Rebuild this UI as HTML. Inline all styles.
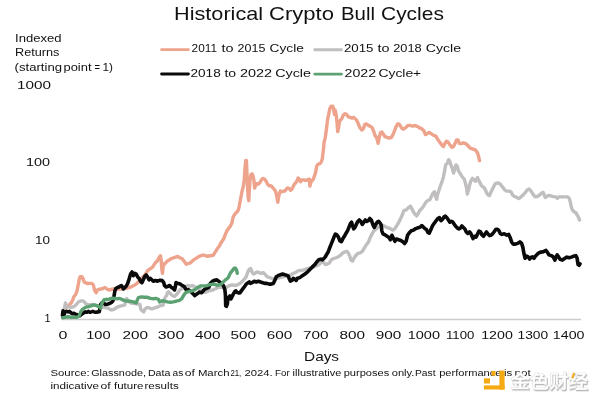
<!DOCTYPE html><html><head><meta charset="utf-8"><title>Historical Crypto Bull Cycles</title><style>html,body{margin:0;padding:0;background:#fff;}body{width:600px;height:402px;overflow:hidden;position:relative;}svg{position:absolute;left:0;top:0;display:block;will-change:transform;}.t{font-family:"Liberation Sans",Arial,sans-serif;fill:#111;}.cn{font-family:"Liberation Sans","Noto Sans CJK SC","WenQuanYi Zen Hei",sans-serif;font-weight:500;}</style></head><body><svg width="600" height="402" viewBox="0 0 600 402"><line x1="62" y1="319.4" x2="581" y2="319.4" stroke="#cccccc" stroke-width="1.5"/><g stroke-width="2.9" stroke-linecap="round"><line x1="161.6" y1="49.6" x2="188.4" y2="49.6" stroke="#eea38c"/><line x1="314.8" y1="49.7" x2="341.4" y2="49.7" stroke="#c0bebe"/><line x1="161.6" y1="74" x2="188.4" y2="74" stroke="#0a0a0a"/><line x1="314.8" y1="74.1" x2="341.4" y2="74.1" stroke="#5ca171"/></g><g fill="none" stroke-linejoin="round" stroke-linecap="round"><polyline points="66.3,308.0 67.9,306.1 69.6,304.5 71.3,302.8 72.6,300.2 73.8,296.8 75.5,294.7 76.8,291.8 77.7,287.5 78.5,283.3 79.3,279.1 80.2,276.6 81.9,276.6 83.2,279.1 84.4,282.3 86.1,283.0 87.8,283.5 90.5,283.4 91.9,283.4 93.3,284.9 94.7,290.5 96.1,292.7 97.6,289.8 99.0,289.3 101.0,289.0 103.0,288.5 105.0,287.5 106.9,289.0 108.9,290.0 110.9,289.5 112.9,289.0 116.0,289.0 120.0,289.0 124.0,288.5 127.0,288.0 130.8,287.0 132.8,286.0 134.8,285.0 137.0,283.4 139.8,280.5 143.0,277.0 145.0,275.0 147.6,270.6 149.7,269.2 152.6,267.1 154.0,264.9 155.4,262.8 157.5,260.7 158.9,257.8 160.4,255.7 161.1,259.3 161.8,269.2 162.5,273.4 163.2,266.3 164.6,263.5 165.0,263.5 167.1,261.3 169.3,259.9 171.4,258.5 173.5,257.8 175.6,257.1 177.8,256.4 179.9,257.8 182.0,258.5 184.1,261.3 186.3,264.2 188.4,263.5 190.5,262.8 192.7,260.6 194.8,259.2 196.9,257.8 199.0,256.4 201.2,255.7 203.3,255.0 205.4,255.7 207.6,256.4 209.7,255.7 211.8,255.7 213.2,255.2 214.7,253.0 216.9,249.3 219.2,246.3 220.7,243.3 222.2,241.0 223.7,238.8 225.1,235.1 226.6,231.3 228.6,228.4 230.4,226.1 231.9,223.1 232.6,219.4 233.4,216.4 234.9,214.2 236.3,212.7 238.1,210.4 239.0,207.5 239.8,203.0 240.6,199.0 241.9,191.8 243.4,185.8 244.2,179.9 244.9,169.4 245.7,160.4 246.4,160.4 246.9,172.4 247.6,187.3 248.2,197.8 248.8,200.7 249.4,188.8 250.1,179.9 250.9,174.6 252.1,173.9 253.1,176.1 253.9,179.9 254.6,188.1 255.4,185.8 256.6,183.6 258.1,184.3 259.9,182.8 261.3,179.9 262.8,178.4 264.6,179.1 266.1,181.3 267.6,184.3 269.1,185.8 271.0,185.8 272.5,187.3 274.5,189.6 276.0,192.5 277.0,197.8 277.8,202.2 279.0,194.8 280.4,191.0 282.2,191.8 284.0,191.0 285.0,191.0 286.2,189.2 287.5,187.9 289.4,188.6 290.6,190.4 291.8,189.2 293.1,186.7 294.3,184.2 295.6,183.0 296.8,181.1 298.1,178.0 299.3,179.2 300.5,181.7 301.8,179.9 303.7,179.9 305.5,180.5 307.4,179.9 309.3,179.2 309.9,186.1 310.5,183.6 311.7,180.5 313.0,179.9 314.2,176.7 315.5,173.0 316.1,169.3 316.7,166.2 318.0,164.3 319.8,163.7 321.1,162.4 322.3,158.7 322.9,153.7 323.6,148.0 324.0,142.8 325.4,136.8 326.6,127.8 327.7,118.9 328.7,114.4 329.9,108.4 331.1,106.2 332.6,106.2 333.7,109.2 334.4,114.4 335.1,109.9 336.2,115.1 337.1,123.4 337.7,131.6 338.6,127.8 339.6,121.1 341.6,118.9 343.4,115.1 344.9,113.7 346.6,114.4 348.1,116.6 350.1,117.4 352.0,118.1 353.8,117.4 355.3,118.9 356.8,120.4 358.3,123.8 359.5,126.9 361.7,129.9 363.2,129.1 364.7,124.6 366.2,123.9 368.4,125.4 369.9,126.1 372.2,127.6 373.7,131.3 375.1,135.8 376.6,137.3 378.1,143.3 379.2,138.1 380.4,132.8 381.9,132.1 383.4,134.3 384.9,136.6 387.1,137.3 389.3,138.1 391.6,137.3 393.1,134.3 394.6,130.6 396.0,126.9 397.5,123.9 399.0,123.9 400.5,126.1 402.0,128.4 403.5,129.1 405.7,127.6 408.0,125.4 410.2,125.4 412.5,126.1 415.0,125.5 417.2,126.4 419.5,127.9 421.7,128.7 424.0,130.9 425.4,134.6 426.9,133.9 429.2,132.4 431.4,133.9 433.7,135.4 435.9,136.1 437.4,139.1 439.6,142.1 441.9,145.1 443.4,146.6 444.9,143.6 446.3,141.3 448.1,142.1 450.1,145.1 452.0,147.3 453.5,146.6 455.0,143.6 456.5,139.9 458.0,139.9 459.5,143.6 461.3,143.6 463.5,142.8 465.7,143.6 468.0,145.8 470.2,148.1 472.5,148.8 474.7,149.6 476.2,151.0 477.7,153.3 478.9,157.8 479.5,160.7" stroke="#eea38c" stroke-width="3.4"/><polyline points="62.5,316.0 64.5,308.0 65.5,302.9 66.0,305.9 67.0,306.9 69.0,306.9 70.9,307.4 72.9,306.9 74.9,305.9 76.4,304.4 77.9,302.4 79.4,301.4 81.4,300.9 82.9,300.9 84.4,301.9 85.4,303.4 88.0,305.0 92.0,304.5 96.0,305.5 100.0,306.8 103.0,307.3 105.3,307.7 108.0,308.2 111.3,310.0 114.0,309.3 116.7,307.3 119.3,306.3 122.0,305.7 124.7,305.0 125.8,301.0 126.7,298.5 128.0,301.0 131.0,303.0 135.0,303.5 139.9,304.4 140.7,308.9 141.8,310.4 143.7,311.9 145.1,308.9 147.4,307.4 149.6,308.1 151.9,308.9 154.1,308.1 156.3,307.4 158.6,306.6 160.8,305.5 163.1,305.1 164.2,300.0 165.2,297.4 166.7,295.2 167.5,292.9 168.6,291.8 169.7,292.9 171.2,294.4 172.7,295.9 174.6,296.3 175.7,295.2 177.2,293.7 178.7,291.8 179.8,289.9 182.0,288.5 184.5,287.0 186.9,285.8 188.4,285.5 189.9,286.2 191.3,285.8 192.8,285.8 194.3,286.6 198.0,288.5 201.0,290.0 204.5,292.3 207.5,291.5 210.5,290.5 213.2,289.8 216.1,288.5 218.9,287.2 221.7,287.0 224.5,287.5 226.9,287.0 229.6,285.5 232.5,284.9 235.5,285.5 237.9,284.6 240.7,283.0 242.8,280.8 245.0,278.4 246.4,276.3 247.8,272.0 249.2,269.2 250.6,268.5 252.0,272.0 253.5,274.1 254.9,273.4 257.0,272.0 259.1,272.7 261.3,273.4 263.4,272.7 265.5,274.9 267.6,277.0 269.8,277.7 271.9,278.4 274.0,279.1 278.0,278.0 282.0,277.0 286.0,276.0 289.0,275.5 291.1,274.7 293.3,273.3 295.4,272.6 297.5,271.2 299.7,270.5 301.8,270.5 303.9,269.8 306.0,269.0 308.9,268.3 312.0,267.5 315.0,266.5 318.8,264.8 320.9,262.7 323.1,261.5 325.2,264.5 327.3,264.0 329.4,263.0 331.0,260.2 333.2,258.7 335.4,258.0 337.7,257.2 339.9,255.7 342.2,253.5 344.4,252.0 346.6,251.3 348.1,252.8 349.6,255.7 351.1,260.2 352.6,261.0 354.1,258.0 355.6,255.7 357.8,253.5 360.1,252.8 362.3,251.3 364.1,248.3 366.0,245.3 368.3,242.3 369.8,238.6 371.3,235.6 372.8,232.6 374.3,230.4 376.5,228.9 378.7,226.6 380.9,225.9 383.2,225.5 386.0,227.1 388.2,227.8 390.4,228.6 392.7,230.1 394.9,228.6 397.2,224.9 399.4,221.1 401.6,216.6 403.9,210.7 406.1,209.9 408.4,207.7 410.6,206.2 412.1,209.2 413.6,212.2 415.1,214.4 416.6,215.9 418.1,213.7 419.6,210.7 421.8,208.4 424.0,205.4 426.3,201.7 428.5,200.2 430.0,199.5 431.5,196.3 433.0,193.3 434.5,191.8 436.0,197.8 436.7,199.3 437.5,194.8 439.0,190.3 440.4,185.8 441.9,182.1 443.4,176.9 444.6,170.9 445.7,164.9 447.2,163.4 448.7,159.7 449.7,161.2 450.9,164.9 452.4,168.7 453.6,173.1 454.6,169.4 456.1,164.9 457.3,166.4 458.4,170.9 459.9,173.1 461.3,175.4 462.8,177.6 464.3,179.1 465.5,183.6 466.6,188.1 467.3,194.0 468.5,190.3 469.6,185.1 471.0,180.6 472.5,178.4 474.0,179.9 475.5,181.3 477.5,177.6 478.5,179.9 480.0,182.8 481.5,185.8 483.7,187.3 485.5,190.0 486.5,192.6 488.0,194.9 489.5,195.6 491.0,191.9 492.5,188.9 494.0,185.9 495.4,183.7 497.7,182.9 499.9,183.7 502.2,186.6 504.4,189.6 506.6,191.1 508.9,191.1 511.1,191.9 512.6,194.9 514.1,196.3 516.3,197.1 518.6,198.6 520.8,197.1 523.1,194.9 525.3,192.6 526.8,190.4 529.0,188.9 530.5,190.4 532.0,192.6 533.5,194.9 535.0,196.8 537.2,196.6 539.5,195.0 541.7,193.1 543.2,192.4 544.3,195.4 545.4,197.6 546.9,196.1 549.2,195.4 551.4,196.1 553.7,196.6 555.9,196.9 557.4,198.4 558.9,196.9 561.1,196.9 563.4,196.9 565.6,196.9 567.8,196.9 569.3,198.4 570.1,201.3 570.8,204.3 571.6,208.1 572.6,210.3 574.1,211.8 575.6,212.5 577.1,214.8 578.3,217.0 579.5,220.0" stroke="#c0bebe" stroke-width="3.4"/><polyline points="62.5,315.0 63.0,310.9 63.5,312.8 64.0,314.8 65.0,311.9 66.5,311.4 68.0,311.9 69.4,311.4 70.9,312.8 72.4,313.8 73.9,313.3 75.4,314.3 76.9,314.8 78.4,315.3 79.9,315.8 80.9,314.8 82.4,313.8 83.9,312.8 85.4,311.9 86.9,312.3 88.3,311.4 89.8,312.3 91.3,311.9 92.8,311.4 94.3,311.9 95.8,312.3 97.8,311.9 99.3,311.7 100.5,304.5 101.7,303.0 103.5,302.7 105.3,304.5 107.1,304.2 109.5,303.6 111.4,302.4 112.9,300.9 113.9,296.9 114.4,293.9 114.9,290.9 115.9,288.5 117.4,287.5 118.9,287.0 120.4,286.0 121.4,285.5 122.4,287.0 123.4,289.0 124.9,287.5 126.3,286.0 127.7,283.4 129.1,279.1 130.6,274.1 132.0,272.0 133.4,275.6 134.8,273.4 136.2,274.1 137.7,277.0 139.1,278.4 140.5,281.2 141.9,282.7 143.3,279.8 144.8,276.3 146.2,274.9 147.6,277.0 149.0,279.8 150.4,278.4 151.8,279.8 153.3,281.2 155.4,280.5 157.5,281.2 160.0,280.2 162.2,280.6 163.7,282.5 164.5,285.5 166.0,287.0 168.2,286.2 169.7,285.5 171.2,287.3 173.1,288.4 174.6,289.9 175.3,287.0 176.0,282.5 177.2,283.2 178.7,283.6 180.1,284.0 181.6,285.1 183.1,285.8 184.6,287.0 185.7,289.2 186.9,289.9 188.4,289.6 190.8,291.5 193.2,293.9 194.7,295.7 196.1,294.5 197.9,293.3 199.7,292.1 201.5,292.7 202.7,291.5 204.5,289.4 206.3,288.5 208.7,287.6 210.5,283.2 212.3,281.4 214.7,280.2 216.9,279.9 218.9,281.4 220.9,282.9 222.9,284.9 223.9,286.9 224.9,289.8 225.4,295.0 225.7,305.9 226.4,306.4 227.4,303.9 227.9,298.4 228.9,296.9 229.9,295.9 230.9,299.0 231.9,296.9 233.4,293.9 234.9,291.4 235.9,290.9 236.9,292.4 238.4,292.9 239.9,292.9 241.3,290.9 242.8,288.9 244.3,286.9 245.3,285.5 246.3,284.0 247.8,283.0 249.3,281.8 250.5,283.4 252.0,282.7 254.2,281.2 256.3,282.0 258.4,281.2 260.6,282.0 262.7,282.7 264.8,283.4 266.9,283.4 269.1,284.1 271.2,284.1 273.3,283.5 274.8,280.4 276.3,276.8 278.4,275.4 280.5,274.7 282.6,274.0 284.8,274.7 286.9,275.4 288.3,276.1 289.3,279.0 290.4,281.1 291.9,280.4 293.3,278.3 294.7,279.0 296.1,280.4 297.5,278.3 299.7,277.6 301.8,276.1 303.9,274.7 306.0,273.3 308.2,271.2 310.3,269.0 312.4,266.9 314.6,264.8 316.7,262.0 318.8,259.8 320.9,259.1 322.4,259.8 323.8,258.4 325.2,257.0 326.6,254.5 328.0,252.3 329.5,248.3 331.0,244.6 332.5,240.8 334.0,237.1 335.4,234.1 336.9,234.9 338.4,237.1 339.9,240.8 341.4,241.6 342.9,238.6 344.4,236.3 345.9,233.4 347.4,231.1 348.9,227.4 350.4,223.7 351.6,222.2 352.6,225.9 353.7,228.9 354.9,227.4 356.3,224.4 357.8,221.4 359.3,219.9 360.8,221.4 362.3,224.4 363.8,222.2 365.3,219.9 366.8,221.4 368.3,220.7 369.8,218.4 371.3,219.9 372.8,224.4 374.3,227.4 375.7,224.4 377.2,222.2 378.7,221.4 380.2,223.2 381.2,224.9 381.8,230.8 383.0,233.8 384.5,234.6 386.7,236.0 389.0,237.5 390.4,239.8 391.9,235.3 393.4,238.3 394.9,241.3 396.4,239.0 398.7,239.8 400.9,240.5 403.1,242.0 404.6,243.5 406.1,241.3 407.6,235.3 409.1,233.1 411.3,230.8 413.6,230.1 415.8,228.6 418.1,227.8 420.3,227.1 421.8,225.6 423.3,227.1 424.8,228.6 426.3,229.3 427.8,232.3 429.3,233.1 430.7,230.1 432.2,226.3 433.7,224.1 435.2,221.9 436.6,220.2 438.0,218.4 439.5,217.7 441.0,220.7 442.5,219.2 444.0,216.9 445.4,216.2 446.9,217.7 448.4,219.9 449.9,222.2 451.4,221.4 452.9,222.2 454.4,224.4 455.9,226.6 457.4,228.1 458.9,228.9 460.4,228.1 461.9,225.9 463.4,227.4 464.9,228.9 466.3,231.9 467.8,233.4 469.6,231.9 470.8,233.4 472.0,236.3 473.1,238.6 474.6,236.3 476.0,237.1 477.5,234.1 479.0,231.1 480.5,231.9 482.0,234.9 483.5,236.3 485.0,234.1 486.5,231.9 488.0,234.1 489.5,235.6 491.0,235.3 492.5,233.9 494.0,232.0 495.0,230.5 496.0,229.2 497.5,229.2 499.0,230.7 500.4,233.7 501.9,234.4 504.2,233.7 506.4,235.1 508.7,234.4 510.1,237.4 511.6,241.9 513.1,244.1 515.4,244.1 517.6,243.4 519.9,241.9 521.6,243.4 522.8,247.1 524.0,253.8 525.1,258.3 526.6,256.0 528.1,256.8 529.6,259.0 531.0,257.5 532.5,256.8 534.0,258.3 535.5,256.0 537.0,254.6 538.5,253.1 540.5,252.1 542.5,252.0 544.5,251.1 546.0,250.4 547.5,252.6 549.0,254.9 551.2,255.6 553.4,257.1 554.9,260.1 556.1,257.1 557.2,254.9 558.7,257.1 560.1,259.3 562.4,260.1 564.6,258.6 566.9,257.1 569.1,257.8 571.3,257.1 573.6,256.3 575.8,255.6 577.0,257.8 577.6,261.6 578.1,264.6 579.1,265.3 580.0,263.8" stroke="#0a0a0a" stroke-width="3.6"/><polyline points="62.5,317.8 65.0,317.3 68.0,316.8 70.9,317.3 73.9,317.3 76.9,317.3 78.9,316.3 79.9,313.8 80.9,311.4 82.4,309.4 83.9,308.4 85.4,307.4 86.9,306.9 88.8,306.6 91.0,305.8 94.0,304.9 97.0,305.7 99.3,306.9 100.5,308.1 101.7,303.9 102.9,301.6 104.1,299.8 105.9,299.5 108.9,299.2 111.9,298.3 114.9,298.4 116.9,298.9 118.9,298.4 120.9,298.9 122.9,299.9 125.0,300.7 128.0,301.0 131.0,301.4 134.0,302.2 136.2,302.9 137.3,299.9 138.4,297.7 141.4,296.9 144.4,297.3 147.4,297.3 150.4,298.4 153.4,298.8 156.3,298.4 158.6,299.6 159.7,302.0 162.2,300.8 164.5,301.1 167.5,301.9 170.4,302.3 173.4,301.9 176.4,301.1 179.4,300.4 181.6,298.9 183.1,296.3 184.6,294.0 186.1,292.4 189.0,291.5 192.0,290.9 195.0,289.7 197.9,287.3 200.9,285.9 203.9,285.9 206.9,285.6 209.9,284.7 212.9,284.1 215.5,284.5 216.9,285.4 218.9,284.9 220.9,284.4 222.4,282.9 223.9,281.4 225.4,279.9 226.9,278.9 228.4,277.4 229.4,274.9 230.4,272.9 231.7,271.4 232.9,269.9 234.1,268.4 235.1,268.0 236.0,268.9 236.8,270.9 237.3,273.4" stroke="#5ca171" stroke-width="3.4"/></g><text class="t" x="174.10" y="20.00" font-size="17.7" textLength="89.00" lengthAdjust="spacingAndGlyphs">Historical</text><text class="t" x="269.00" y="20.00" font-size="17.7" textLength="64.90" lengthAdjust="spacingAndGlyphs">Crypto</text><text class="t" x="340.90" y="20.00" font-size="17.7" textLength="34.10" lengthAdjust="spacingAndGlyphs">Bull</text><text class="t" x="381.00" y="20.00" font-size="17.7" textLength="62.90" lengthAdjust="spacingAndGlyphs">Cycles</text><text class="t" x="15.00" y="41.70" font-size="10.5" textLength="46.50" lengthAdjust="spacingAndGlyphs">Indexed</text><text class="t" x="15.00" y="56.00" font-size="10.5" textLength="44.40" lengthAdjust="spacingAndGlyphs">Returns</text><text class="t" x="14.60" y="70.80" font-size="10.5" textLength="47.40" lengthAdjust="spacingAndGlyphs">(starting</text><text class="t" x="63.50" y="70.80" font-size="10.5" textLength="28.00" lengthAdjust="spacingAndGlyphs">point</text><text class="t" x="94.50" y="70.80" font-size="10.5" textLength="5.50" lengthAdjust="spacingAndGlyphs">=</text><text class="t" x="102.50" y="70.80" font-size="10.5" textLength="10.50" lengthAdjust="spacingAndGlyphs">1)</text><text class="t" x="191.60" y="52.40" font-size="11.6" textLength="25.40" lengthAdjust="spacingAndGlyphs">2011</text><text class="t" x="221.50" y="52.40" font-size="11.6" textLength="12.00" lengthAdjust="spacingAndGlyphs">to</text><text class="t" x="237.60" y="52.40" font-size="11.6" textLength="27.80" lengthAdjust="spacingAndGlyphs">2015</text><text class="t" x="269.60" y="52.40" font-size="11.6" textLength="34.20" lengthAdjust="spacingAndGlyphs">Cycle</text><text class="t" x="344.00" y="52.40" font-size="11.6" textLength="29.50" lengthAdjust="spacingAndGlyphs">2015</text><text class="t" x="377.50" y="52.40" font-size="11.6" textLength="12.00" lengthAdjust="spacingAndGlyphs">to</text><text class="t" x="393.25" y="52.40" font-size="11.6" textLength="28.50" lengthAdjust="spacingAndGlyphs">2018</text><text class="t" x="425.75" y="52.40" font-size="11.6" textLength="35.25" lengthAdjust="spacingAndGlyphs">Cycle</text><text class="t" x="190.50" y="76.80" font-size="11.6" textLength="30.20" lengthAdjust="spacingAndGlyphs">2018</text><text class="t" x="224.40" y="76.80" font-size="11.6" textLength="11.70" lengthAdjust="spacingAndGlyphs">to</text><text class="t" x="240.00" y="76.80" font-size="11.6" textLength="32.10" lengthAdjust="spacingAndGlyphs">2022</text><text class="t" x="275.20" y="76.80" font-size="11.6" textLength="35.80" lengthAdjust="spacingAndGlyphs">Cycle</text><text class="t" x="344.60" y="76.80" font-size="11.6" textLength="31.50" lengthAdjust="spacingAndGlyphs">2022</text><text class="t" x="378.50" y="76.80" font-size="11.6" textLength="42.70" lengthAdjust="spacingAndGlyphs">Cycle+</text><text class="t" x="17.10" y="88.70" font-size="11.8" textLength="34.00" lengthAdjust="spacingAndGlyphs">1000</text><text class="t" x="26.00" y="166.00" font-size="11.8" textLength="24.10" lengthAdjust="spacingAndGlyphs">100</text><text class="t" x="35.10" y="244.40" font-size="11.8" textLength="15.00" lengthAdjust="spacingAndGlyphs">10</text><text class="t" x="44.60" y="321.90" font-size="11.8" textLength="6.10" lengthAdjust="spacingAndGlyphs">1</text><text class="t" x="58.60" y="339.00" font-size="11.6" textLength="8.90" lengthAdjust="spacingAndGlyphs">0</text><text class="t" x="86.18" y="339.00" font-size="11.6" textLength="24.40" lengthAdjust="spacingAndGlyphs">100</text><text class="t" x="122.46" y="339.00" font-size="11.6" textLength="25.50" lengthAdjust="spacingAndGlyphs">200</text><text class="t" x="157.79" y="339.00" font-size="11.6" textLength="26.50" lengthAdjust="spacingAndGlyphs">300</text><text class="t" x="195.12" y="339.00" font-size="11.6" textLength="25.50" lengthAdjust="spacingAndGlyphs">400</text><text class="t" x="230.45" y="339.00" font-size="11.6" textLength="25.50" lengthAdjust="spacingAndGlyphs">500</text><text class="t" x="266.78" y="339.00" font-size="11.6" textLength="25.50" lengthAdjust="spacingAndGlyphs">600</text><text class="t" x="303.11" y="339.00" font-size="11.6" textLength="25.50" lengthAdjust="spacingAndGlyphs">700</text><text class="t" x="339.44" y="339.00" font-size="11.6" textLength="25.50" lengthAdjust="spacingAndGlyphs">800</text><text class="t" x="375.77" y="339.00" font-size="11.6" textLength="25.50" lengthAdjust="spacingAndGlyphs">900</text><text class="t" x="407.75" y="339.00" font-size="11.6" textLength="32.20" lengthAdjust="spacingAndGlyphs">1000</text><text class="t" x="446.03" y="339.00" font-size="11.6" textLength="28.30" lengthAdjust="spacingAndGlyphs">1100</text><text class="t" x="481.21" y="339.00" font-size="11.6" textLength="31.60" lengthAdjust="spacingAndGlyphs">1200</text><text class="t" x="517.54" y="339.00" font-size="11.6" textLength="30.60" lengthAdjust="spacingAndGlyphs">1300</text><text class="t" x="552.87" y="339.00" font-size="11.6" textLength="31.60" lengthAdjust="spacingAndGlyphs">1400</text><text class="t" x="304.10" y="360.80" font-size="13.3" textLength="34.90" lengthAdjust="spacingAndGlyphs">Days</text><text class="t" x="50.40" y="376.20" font-size="9.7" textLength="39.40" lengthAdjust="spacingAndGlyphs">Source:</text><text class="t" x="91.20" y="376.20" font-size="9.7" textLength="54.80" lengthAdjust="spacingAndGlyphs">Glassnode,</text><text class="t" x="147.90" y="376.20" font-size="9.7" textLength="22.50" lengthAdjust="spacingAndGlyphs">Data</text><text class="t" x="172.50" y="376.20" font-size="9.7" textLength="10.70" lengthAdjust="spacingAndGlyphs">as</text><text class="t" x="184.80" y="376.20" font-size="9.7" textLength="10.20" lengthAdjust="spacingAndGlyphs">of</text><text class="t" x="197.90" y="376.20" font-size="9.7" textLength="31.60" lengthAdjust="spacingAndGlyphs">March</text><text class="t" x="230.40" y="376.20" font-size="9.7" textLength="10.90" lengthAdjust="spacingAndGlyphs">21,</text><text class="t" x="244.50" y="376.20" font-size="9.7" textLength="28.20" lengthAdjust="spacingAndGlyphs">2024.</text><text class="t" x="275.10" y="376.20" font-size="9.7" textLength="14.60" lengthAdjust="spacingAndGlyphs">For</text><text class="t" x="292.60" y="376.20" font-size="9.7" textLength="48.70" lengthAdjust="spacingAndGlyphs">illustrative</text><text class="t" x="343.70" y="376.20" font-size="9.7" textLength="45.50" lengthAdjust="spacingAndGlyphs">purposes</text><text class="t" x="391.70" y="376.20" font-size="9.7" textLength="22.70" lengthAdjust="spacingAndGlyphs">only.</text><text class="t" x="415.00" y="376.20" font-size="9.7" textLength="20.50" lengthAdjust="spacingAndGlyphs">Past</text><text class="t" x="439.20" y="376.20" font-size="9.7" textLength="62.30" lengthAdjust="spacingAndGlyphs">performance</text><text class="t" x="503.90" y="376.20" font-size="9.7" textLength="8.30" lengthAdjust="spacingAndGlyphs">is</text><text class="t" x="514.60" y="376.20" font-size="9.7" textLength="16.20" lengthAdjust="spacingAndGlyphs">not</text><text class="t" x="50.40" y="389.20" font-size="9.7" textLength="48.60" lengthAdjust="spacingAndGlyphs">indicative</text><text class="t" x="100.40" y="389.20" font-size="9.7" textLength="10.20" lengthAdjust="spacingAndGlyphs">of</text><text class="t" x="114.00" y="389.20" font-size="9.7" textLength="29.50" lengthAdjust="spacingAndGlyphs">future</text><text class="t" x="144.50" y="389.20" font-size="9.7" textLength="34.20" lengthAdjust="spacingAndGlyphs">results</text><g fill="#f6aa12"><rect x="499.4" y="370.5" width="5.2" height="19"/><rect x="483.9" y="385.4" width="20.7" height="4.1"/><rect x="483.9" y="378.3" width="6.1" height="5.2"/><rect x="491.6" y="370.9" width="3.9" height="4.8"/></g><defs><filter id="sh" x="-10%" y="-20%" width="130%" height="150%"><feDropShadow dx="0.9" dy="1.3" stdDeviation="0.35" flood-color="#b8b8b8" flood-opacity="1"/></filter></defs><text x="510.5" y="387.6" font-size="18.5" style='font-family:"Liberation Sans","Noto Sans CJK SC","WenQuanYi Zen Hei",sans-serif;font-weight:500;' fill="#ffffff" stroke="#d6d6d6" stroke-width="0.7" paint-order="stroke" filter="url(#sh)" textLength="77.5" lengthAdjust="spacingAndGlyphs">金色财经</text><path d="M571.2 378.2 L573.2 372.8 L575 373.3 L573.2 378.6 Z" fill="#f6aa12"/></svg></body></html>
